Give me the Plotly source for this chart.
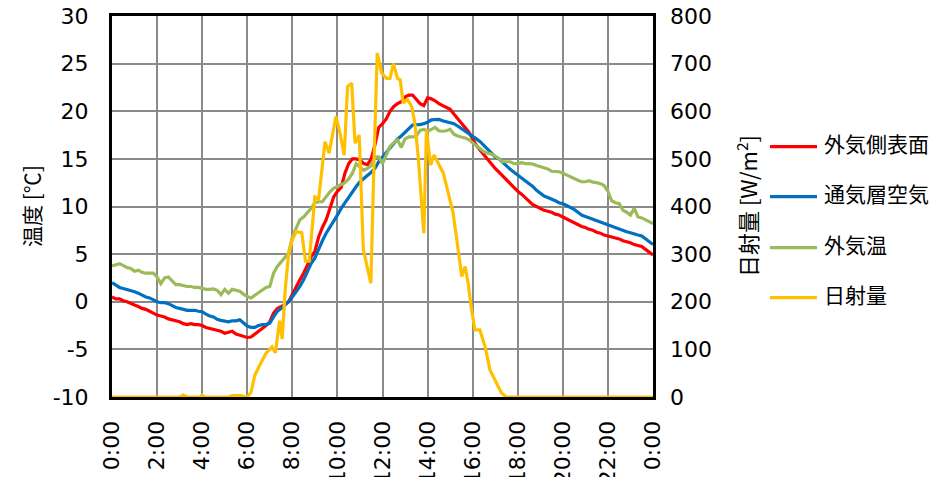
import plotly.graph_objects as go

# ---------------- data ----------------
times_min = list(range(0, 1441, 10))  # 10-minute steps, 0:00 .. 24:00

surface_temp = [  # 外気側表面 [°C]
    0.5, 0.3, 0.3, 0.1, 0.0, -0.2,
    -0.35, -0.5, -0.7, -0.8, -1.0, -1.2,
    -1.4, -1.5, -1.6, -1.8, -1.9, -2.0,
    -2.1, -2.3, -2.4, -2.3, -2.4, -2.4,
    -2.5, -2.7, -2.8, -2.9, -3.0, -3.1,
    -3.3, -3.2, -3.1, -3.4, -3.5, -3.6,
    -3.75, -3.7, -3.4, -3.2, -2.9, -2.5,
    -2.1, -1.2, -0.7, -0.5, -0.3, 0.0,
    0.8, 1.5, 2.3, 3.0, 3.8, 4.7,
    5.3, 6.8, 7.8, 8.6, 9.8, 11.0,
    11.6, 12.0, 13.5, 14.5, 15.0, 15.0,
    14.9, 14.5, 14.4, 15.0, 16.5, 18.3,
    18.7, 19.2, 20.0, 20.5, 20.8, 21.0,
    21.5, 21.7, 21.7, 21.3, 20.8, 20.6,
    21.4, 21.3, 21.1, 20.8, 20.6, 20.4,
    20.2, 19.7, 19.2, 18.7, 18.3, 17.8,
    17.1, 16.4, 15.9, 15.4, 14.9, 14.4,
    14.0, 13.6, 13.2, 12.8, 12.3, 11.9,
    11.6, 11.3, 10.9, 10.6, 10.2, 10.0,
    9.8, 9.6, 9.5, 9.4, 9.2, 9.1,
    8.9, 8.7, 8.5, 8.3, 8.1, 7.9,
    7.8, 7.6, 7.5, 7.3, 7.2, 7.0,
    6.9, 6.8, 6.7, 6.6, 6.4, 6.3,
    6.2, 6.0, 5.9, 5.8, 5.5, 5.2,
    4.9,
]

cavity_air = [  # 通気層空気 [°C]
    2.0, 1.7, 1.5, 1.4, 1.3, 1.2,
    1.05, 0.9, 0.7, 0.5, 0.4, 0.2,
    0.0, -0.1, -0.1, -0.2, -0.4, -0.6,
    -0.7, -0.8, -0.9, -0.9, -0.9, -1.0,
    -1.05, -1.3, -1.5, -1.6, -1.85, -1.95,
    -2.05, -2.1, -2.0, -2.0, -1.9, -2.2,
    -2.55, -2.7, -2.7, -2.5, -2.4, -2.4,
    -2.25, -1.6, -1.0, -0.7, -0.35, 0.0,
    0.5, 1.0, 1.6, 2.3, 3.1, 4.0,
    4.6, 5.6, 6.4, 7.2, 7.8, 8.5,
    9.1, 9.8, 10.4, 11.0, 11.5, 12.1,
    12.6, 12.9, 13.2, 13.6, 14.0, 14.7,
    15.2, 15.7, 16.2, 16.6, 17.1, 17.4,
    17.8, 18.2, 18.55, 18.6, 18.6, 18.7,
    18.85, 19.1, 19.15, 19.15, 19.0, 18.9,
    18.8, 18.7, 18.45, 18.2, 17.95, 17.6,
    17.35, 17.1, 16.8, 16.4, 16.0, 15.6,
    15.2, 15.0, 14.6, 14.2, 13.9, 13.6,
    13.3, 13.1, 12.7, 12.4, 12.1, 11.7,
    11.4, 11.1, 10.95, 10.8, 10.6, 10.4,
    10.3, 10.1, 9.9, 9.7, 9.4, 9.1,
    8.95, 8.8, 8.65, 8.5, 8.4, 8.2,
    8.05, 7.95, 7.8, 7.6, 7.45, 7.35,
    7.25, 7.1, 7.0, 6.9, 6.6, 6.3,
    6.0,
]

outdoor_temp = [  # 外気温 [°C]
    3.75, 3.9, 4.0, 3.8, 3.6, 3.5,
    3.2, 3.3, 3.1, 3.0, 3.0, 3.0,
    2.6, 1.9, 2.5, 2.6, 2.2, 1.8,
    1.8, 1.7, 1.6, 1.6, 1.5, 1.5,
    1.4, 1.3, 1.3, 1.35, 1.2, 0.75,
    1.3, 0.9, 1.3, 1.2, 1.1, 0.8,
    0.55, 0.4, 0.7, 0.9, 1.3, 1.5,
    1.6, 3.0, 3.7, 4.2, 4.7, 5.1,
    6.8, 7.8, 8.6, 8.9, 9.3, 9.8,
    10.4, 10.5, 10.5, 11.0, 11.55, 11.9,
    12.1, 12.3, 12.5, 12.9, 13.5, 14.5,
    14.2, 13.8, 14.0, 14.3, 15.2, 15.2,
    14.5, 15.5, 16.3, 16.7, 17.0, 16.2,
    17.1, 17.3, 17.3, 17.4, 18.0, 18.1,
    17.9, 18.1, 18.3, 17.95, 17.9, 17.95,
    18.1, 17.6, 17.4, 17.3, 17.2, 17.0,
    16.7, 16.3, 16.0, 15.75, 15.6, 15.5,
    15.3, 15.0, 14.7, 14.7, 14.7, 14.5,
    14.5, 14.6, 14.5, 14.5, 14.45, 14.3,
    14.2, 14.1, 13.95, 13.7, 13.65, 13.65,
    13.5, 13.3, 13.1, 12.9, 12.75, 12.6,
    12.6, 12.7, 12.55, 12.5, 12.4, 12.2,
    11.6, 10.6, 10.4, 10.3, 9.6, 9.4,
    9.1, 9.8, 8.9, 8.8, 8.6, 8.4,
    8.2,
]

# 日射量 [W/m2] at irregular times (minutes after 0:00)
rad_min = [0, 180, 190, 200, 235, 240, 245, 310, 320, 345, 355, 360,
           370, 380, 390, 400, 410, 426, 435, 446, 453, 461, 470, 480,
           490, 505, 515, 525, 540, 550, 567, 578, 596, 607, 618, 627,
           638, 647, 658, 669, 678, 689, 698, 706, 718, 731, 740, 749,
           760, 767, 775, 786, 798, 806, 815, 824, 830, 837, 848, 857,
           868, 882, 895, 908, 919, 931, 940, 948, 957, 966, 979, 993,
           1006, 1024, 1037, 1050, 1440]
rad_val = [0, 0, 4, 0, 0, 4, 0, 0, 3, 3, 0, 0,
           10, 45, 62, 76, 92, 105, 93, 160, 122, 225, 300, 330,
           347, 345, 285, 285, 420, 415, 536, 512, 589, 554, 508, 652,
           659, 533, 550, 309, 274, 239, 512, 722, 680, 669, 669, 700,
           669, 666, 617, 625, 610, 575, 505, 414, 344, 561, 487, 508,
           491, 470, 428, 386, 323, 253, 274, 239, 183, 141, 141, 106,
           57, 29, 8, 0, 0]

series_names = ["外気側表面", "通気層空気", "外気温", "日射量"]
x_tick_hours = [0, 2, 4, 6, 8, 10, 12, 14, 16, 18, 20, 22, 24]
x_tick_text = ["0:00", "2:00", "4:00", "6:00", "8:00", "10:00", "12:00",
               "14:00", "16:00", "18:00", "20:00", "22:00", "0:00"]
y_tick_vals = [-10, -5, 0, 5, 10, 15, 20, 25, 30]
y_tick_text = ["-10", "-5", "0", "5", "10", "15", "20", "25", "30"]
y2_tick_vals = [0, 100, 200, 300, 400, 500, 600, 700, 800]

# ---------------- styling ----------------
colors = ["#FF0000", "#0070C0", "#9BBB59", "#FFC000"]
LINE_W = 3.2
W, H = 950, 477
PL, PR, PT, PB = 112, 653, 16, 397   # plot area in pixels
TICK_FONT = dict(family="DejaVu Sans", size=22, color="#000000")
CJK = "Noto Sans CJK JP"


def px(xp):
    return (xp - PL) / (PR - PL)


def py(yp):
    return (PB - yp) / (PB - PT)


hours = [m / 60 for m in times_min]
rad_hours = [m / 60 for m in rad_min]

fig = go.Figure()
for name, vals, col in zip(series_names[:3], [surface_temp, cavity_air, outdoor_temp], colors[:3]):
    fig.add_trace(go.Scatter(x=hours, y=vals, mode="lines", name=name,
                             line=dict(color=col, width=LINE_W), yaxis="y"))
fig.add_trace(go.Scatter(x=rad_hours, y=rad_val, mode="lines", name=series_names[3],
                         line=dict(color=colors[3], width=LINE_W), yaxis="y2"))

fig.update_layout(
    width=W, height=H,
    margin=dict(l=PL, r=W - PR, t=PT, b=H - PB, pad=0),
    paper_bgcolor="white", plot_bgcolor="white",
    showlegend=False,
    xaxis=dict(range=[0, 24], tickvals=x_tick_hours, ticktext=x_tick_text,
               tickangle=-90, tickfont=TICK_FONT, showgrid=True,
               gridcolor="#8a8a8a", gridwidth=1.6, zeroline=False,
               showline=True, linecolor="#000000", linewidth=3, mirror=True,
               ticks="", automargin=False, layer="below traces",
               ticklabelstandoff=12),
    yaxis=dict(range=[-10, 30], tickvals=y_tick_vals, ticktext=y_tick_text,
               tickfont=TICK_FONT, showgrid=True, gridcolor="#8a8a8a",
               gridwidth=1.6, zeroline=False, showline=True,
               linecolor="#000000", linewidth=3, mirror=True, ticks="",
               automargin=False, layer="below traces", ticklabelstandoff=16),
    yaxis2=dict(range=[0, 800], tickvals=y2_tick_vals, overlaying="y",
                side="right", tickfont=TICK_FONT, showgrid=False,
                zeroline=False, showline=False, ticks="", automargin=False,
                ticklabelstandoff=16),
)

annotations = [
    dict(text="温度 [℃]", x=px(31), y=py(206), xref="paper", yref="paper",
         textangle=-90, showarrow=False, xanchor="center", yanchor="middle",
         font=dict(family=CJK, size=21, color="#000000")),
    dict(text="日射量 [W/m<sup>2</sup>]", x=px(746), y=py(206), xref="paper",
         yref="paper", textangle=-90, showarrow=False, xanchor="center",
         yanchor="middle", font=dict(family=CJK, size=22, color="#000000")),
]
shapes = []
legend_line_y = [146.7, 196.7, 247.7, 297.7]
for name, col, ly in zip(series_names, colors, legend_line_y):
    shapes.append(dict(type="line", xref="paper", yref="paper",
                       x0=px(770), x1=px(817), y0=py(ly), y1=py(ly),
                       line=dict(color=col, width=LINE_W)))
    annotations.append(dict(text=name, x=px(822), y=py(ly - 3.5), xref="paper",
                            yref="paper", showarrow=False, xanchor="left",
                            yanchor="middle",
                            font=dict(family=CJK, size=21, color="#000000")))
fig.update_layout(annotations=annotations, shapes=shapes)

fig.write_html("out.html")
